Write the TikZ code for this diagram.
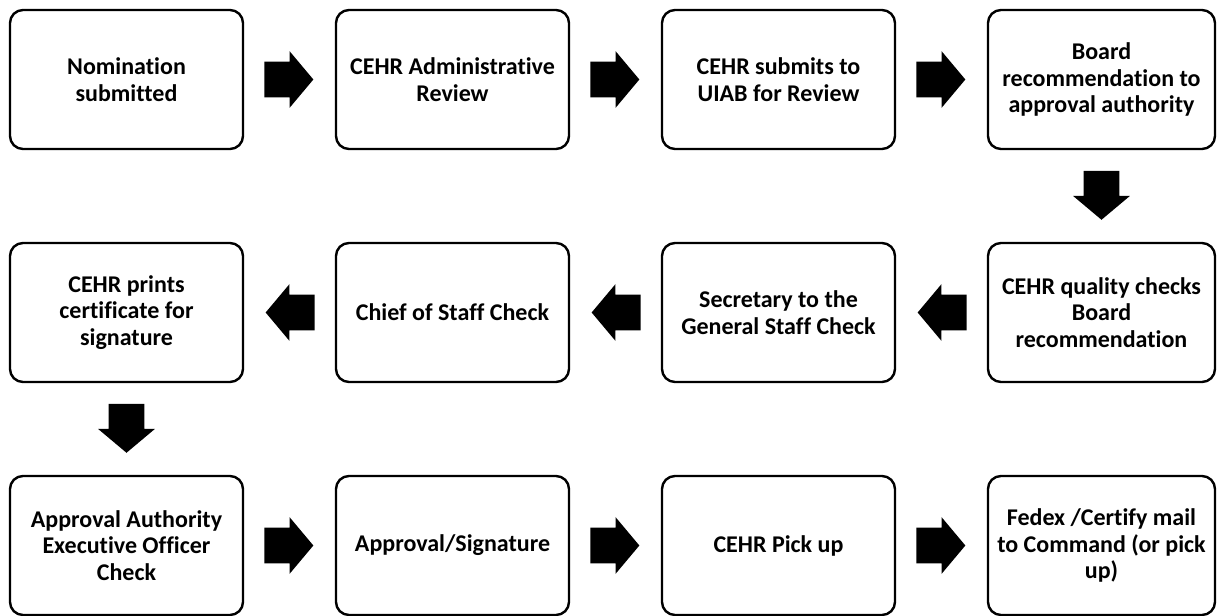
\documentclass[tikz,border=0pt]{standalone}
\usepackage{fontspec}
\setmainfont{Carlito}[Ligatures=NoCommon]
\usetikzlibrary{positioning}
\usetikzlibrary{shapes.arrows}
\tikzset{%
	% Specifications for style of nodes:
	stage/.style = {rectangle, rounded corners=6.5pt, draw=black, line width=1.2pt,
		minimum width=116.5pt, minimum height=69.5pt, inner sep=2pt,
		text centered, font=\fontsize{12pt}{13.4pt}\selectfont\bfseries},
	lastStage/.style = {stage, minimum width=113.5pt},
	blockArrow/.style = {single arrow, fill=black, draw=none,
		inner xsep=0pt, inner ysep=8.75pt,
		minimum height=24.5pt, pos=0.41,
		single arrow head extend=5.25pt, single arrow tip angle=100},
	goRight/.style = {blockArrow},
	goLeft/.style = {blockArrow, rotate=180},
	goDown/.style = {blockArrow, rotate=270},
}
\begin{document}
\begin{tikzpicture}[node distance=45.8pt and 45.3pt, align=center]
	\useasboundingbox (0,0) rectangle (608.5pt,-308pt);
	% first row
	\node (nominated) [stage, anchor=north west] at (4.4pt,-4.4pt) {Nomination\\submitted};
	\node (adminReview) [stage, right=of nominated] {CEHR Administrative\\Review};
	\node (toUIAB) [stage, right=of adminReview] {CEHR submits to\\UIAB for Review};
	\node (boardRec) [lastStage, right=of toUIAB] {Board\\recommendation to\\approval authority};
	% second row
	\node (qualityCheck) [lastStage, below=of boardRec] {CEHR quality checks\\Board\\recommendation};
	\node (secretary) [stage, left=of qualityCheck] {Secretary to the\\General Staff Check};
	\node (chiefStaff) [stage, left=of secretary] {Chief of Staff Check};
	\node (prints) [stage, left=of chiefStaff] {CEHR prints\\certificate for\\signature};
	% third row
	\node (execOfficer) [stage, below=of prints] {Approval Authority\\Executive Officer\\Check};
	\node (signature) [stage, right=of execOfficer] {Approval/Signature};
	\node (pickUp) [stage, right=of signature] {CEHR Pick up};
	\node (mailing) [lastStage, right=of pickUp] {Fedex /Certify mail\\to Command (or pick\\up)};
	% block arrows
	\path (nominated) -- node[goRight] {} (adminReview);
	\path (adminReview) -- node[goRight] {} (toUIAB);
	\path (toUIAB) -- node[goRight] {} (boardRec);
	\path (boardRec) -- node[goDown] {} (qualityCheck);
	\path (qualityCheck) -- node[goLeft] {} (secretary);
	\path (secretary) -- node[goLeft] {} (chiefStaff);
	\path (chiefStaff) -- node[goLeft] {} (prints);
	\path (prints) -- node[goDown] {} (execOfficer);
	\path (execOfficer) -- node[goRight] {} (signature);
	\path (signature) -- node[goRight] {} (pickUp);
	\path (pickUp) -- node[goRight] {} (mailing);
\end{tikzpicture}
\end{document}
